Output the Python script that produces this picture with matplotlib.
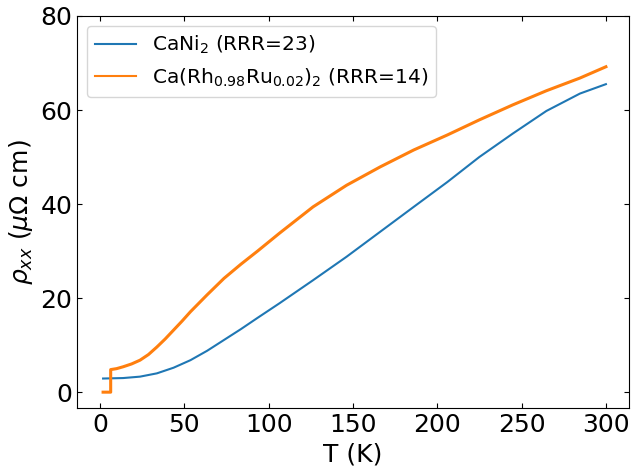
import numpy as np
from matplotlib import pyplot as plt

# CaNi2 (RRR=23)
T_ni = [1.8, 13.7, 23.7, 33.7, 43.6, 53.6, 63.5, 73.5, 83.5, 93.4, 106.4,
        126.3, 146.2, 166.1, 186.0, 206.0, 224.9, 244.8, 264.7, 284.6, 300]
rho_ni = [2.9, 3.0, 3.3, 4.0, 5.2, 6.8, 8.8, 11.1, 13.4, 15.8, 18.9, 23.8,
          28.8, 34.1, 39.4, 44.7, 50.0, 55.0, 59.8, 63.5, 65.5]

# Ca(Rh0.98Ru0.02)2 (RRR=14)
T_rh = [1.8, 6.3, 6.3, 9.8, 13.7, 18.7, 23.7, 28.7, 33.7, 38.6, 43.6, 48.6,
        53.6, 63.5, 73.5, 83.5, 93.4, 106.4, 126.3, 146.2, 166.1, 186.0,
        206.0, 224.9, 244.8, 264.7, 284.6, 300]
rho_rh = [0, 0, 4.8, 5.0, 5.4, 6.0, 6.8, 8.0, 9.6, 11.3, 13.2, 15.1, 17.1,
          20.7, 24.2, 27.2, 30.0, 33.8, 39.4, 44.0, 47.9, 51.5, 54.7, 57.9,
          61.1, 64.1, 66.8, 69.2]

fig, ax = plt.subplots(figsize=(6.32, 4.70), dpi=100)
ax.plot(T_ni, rho_ni, color='#1f77b4', lw=1.5, label=r'CaNi$_2$ (RRR=23)')
ax.plot(T_rh, rho_rh, color='#ff7f0e', lw=2.2,
        label=r'Ca(Rh$_{0.98}$Ru$_{0.02}$)$_2$ (RRR=14)')

ax.set_xlim(-13.5, 313.6)
ax.set_ylim(top=80)
ax.set_xlabel('T (K)', fontsize=18)
ax.set_ylabel(r'$\rho_{xx}$ ($\mu\Omega$ cm)', fontsize=18)
ax.tick_params(direction='in', top=True, right=True, labelsize=18)
leg = ax.legend(loc='upper left', fontsize=14.5)
leg.get_lines()[1].set_linewidth(1.5)

plt.subplots_adjust(left=0.1223, right=0.995, top=0.966, bottom=0.131)
plt.savefig('out.png')
